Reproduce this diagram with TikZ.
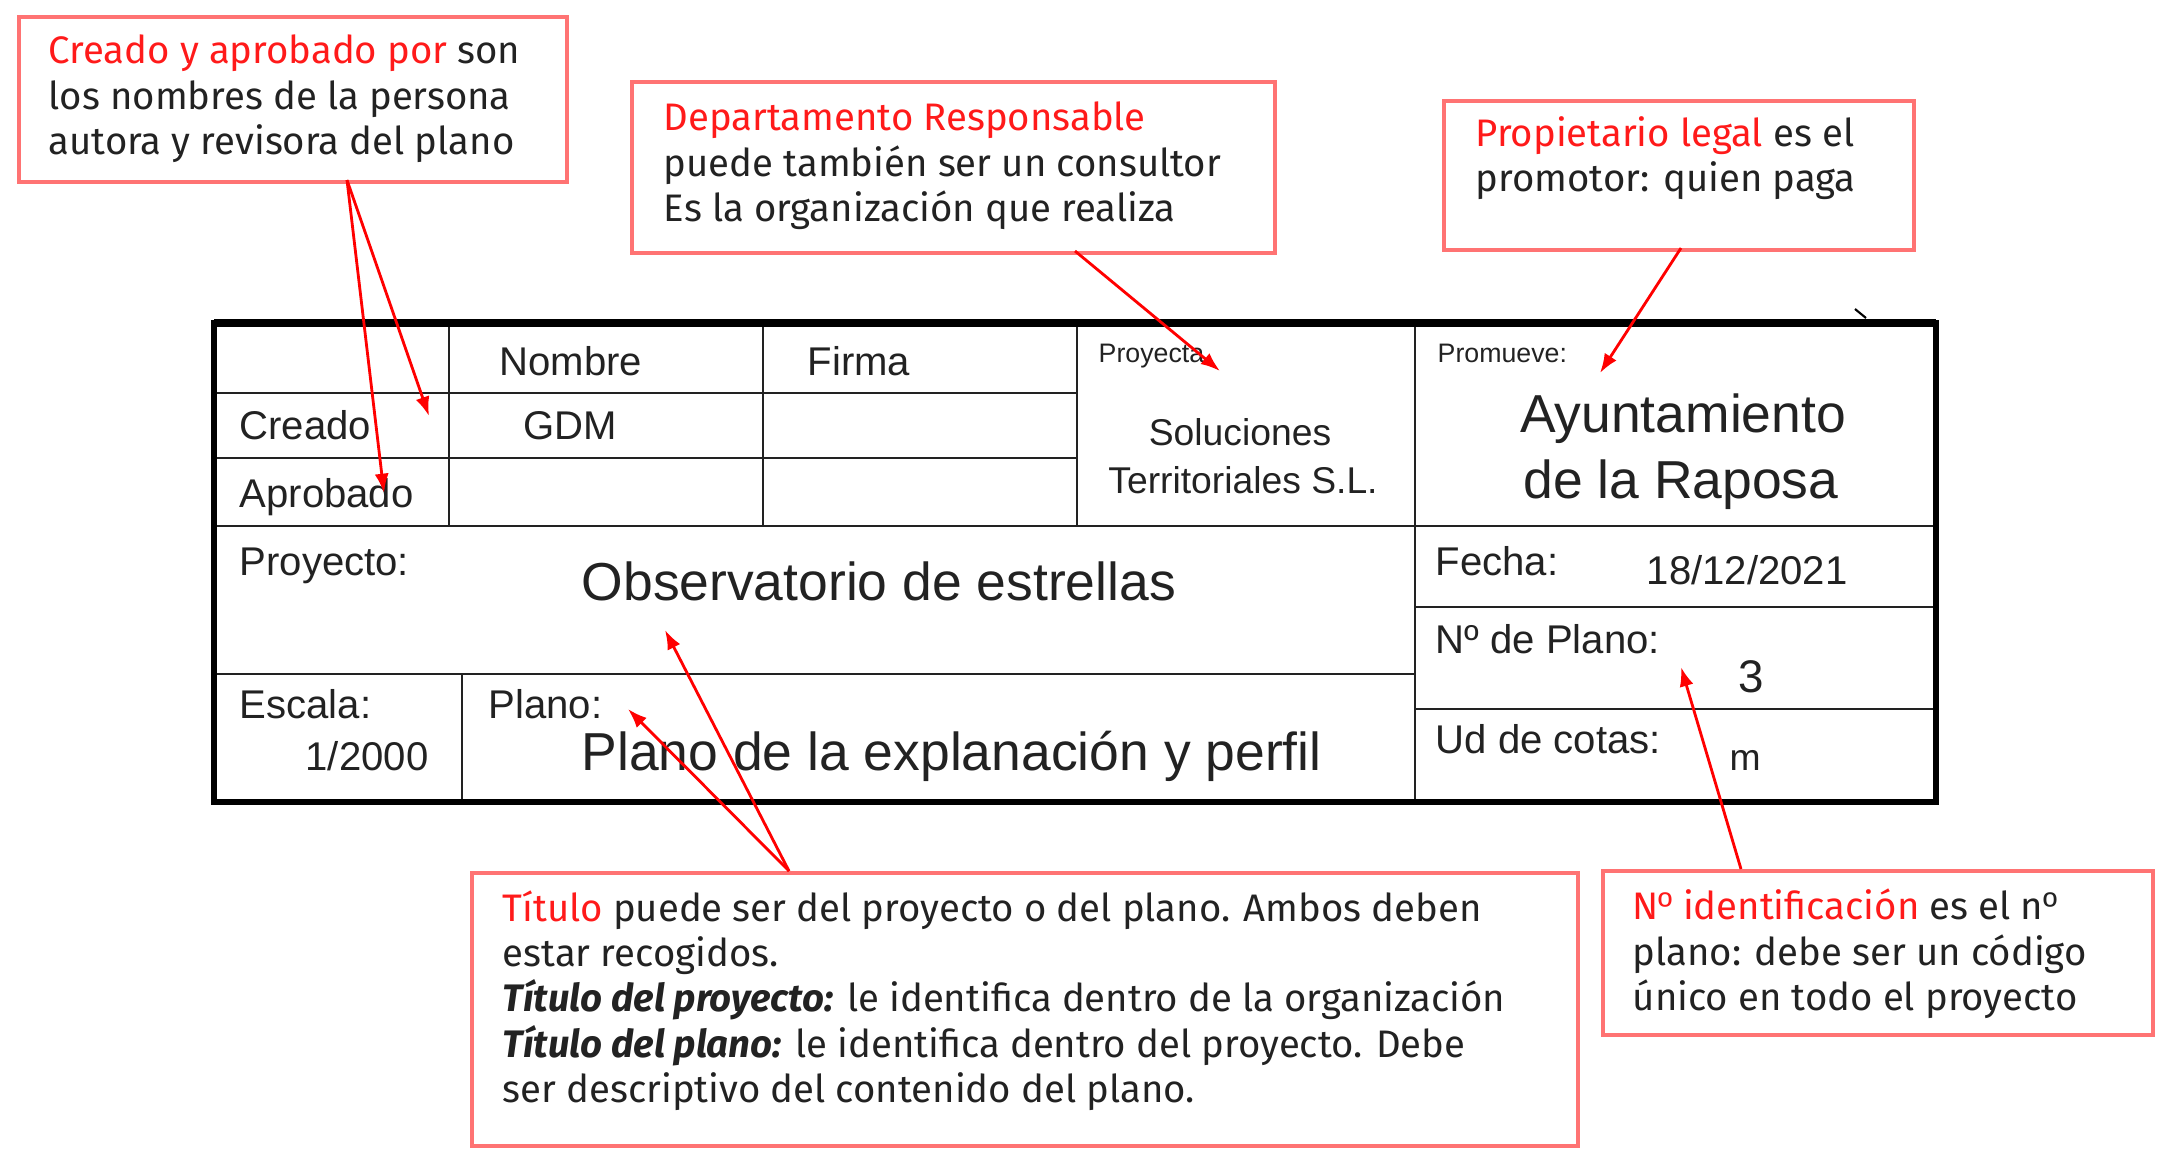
\documentclass[tikz,border=0pt]{standalone}
\usepackage{fontspec}
\setmainfont{Liberation Sans}
\newfontfamily\notefont{Fira Sans}
\usetikzlibrary{arrows.meta}
\definecolor{notered}{HTML}{FF1A1A}
\definecolor{boxred}{HTML}{FF7373}
\definecolor{ink}{HTML}{222222}
\newcommand{\ordo}{{\rmfamily º}}

\begin{document}
\begin{tikzpicture}[x=0.01cm, y=-0.01cm]
        \tikzstyle{cell} = [anchor=base west, inner sep=0pt, text=ink, font=\fontsize{11.4}{13}\selectfont]
        \tikzstyle{bigcell} = [anchor=base west, inner sep=0pt, text=ink, font=\fontsize{15.2}{18}\selectfont]
        \tikzstyle{tinycell} = [anchor=base west, inner sep=0pt, text=ink, font=\fontsize{7.6}{9}\selectfont]
        \tikzstyle{notebox} = [draw=boxred, line width=1.1pt, inner sep=0pt, anchor=north west]
        \tikzstyle{notetext} = [anchor=base west, inner sep=0pt, align=left, text=ink, font=\notefont\fontsize{10.9}{12.8}\selectfont]
        \tikzstyle{pointer} = [draw=red, line width=0.8pt, -{Latex[length=5.5pt, width=4pt]}]
        \tikzstyle{thin} = [draw=ink, line width=0.7pt]
        \tikzstyle{frame} = [draw=black, line width=1.7pt]
        \useasboundingbox (0,0) rectangle (2162,1156);
        % table
        \draw[thin] (214,393) -- (1077,393);
        \draw[thin] (214,458) -- (1077,458);
        \draw[thin] (214,526) -- (1936,526);
        \draw[thin] (214,674) -- (1415,674);
        \draw[thin] (1415,607) -- (1936,607);
        \draw[thin] (1415,709) -- (1936,709);
        \draw[thin] (449,323) -- (449,526);
        \draw[thin] (763,323) -- (763,526);
        \draw[thin] (1077,323) -- (1077,526);
        \draw[thin] (462,674) -- (462,802);
        \draw[thin] (1415,323) -- (1415,802);
        \draw[frame] (214,323) rectangle (1936,802);
        \draw[line width=2.2pt] (214,323) -- (1936,323);
        \draw[line width=0.6pt] (1855,309) -- (1866,318);
        % texts of the table
        \node[cell] (nombreLbl) at (499,375) {Nombre};
        \node[cell] (firmaLbl) at (807,375) {Firma};
        \node[cell] (creadoLbl) at (239,439) {Creado};
        \node[cell] (gdmLbl) at (523,439) {GDM};
        \node[cell] (aprobadoLbl) at (239,507) {Aprobado};
        \node[tinycell] (proyectaLbl) at (1098,362) {Proyecta};
        \node[tinycell] (promueveLbl) at (1437,362) {Promueve:};
        \node[cell, anchor=base, font=\fontsize{10.6}{12}\selectfont] (solucionesLbl) at (1240,445) {Soluciones};
        \node[cell, anchor=base, font=\fontsize{10.6}{12}\selectfont] (territorialesLbl) at (1243,493) {Territoriales S.L.};
        \node[bigcell, anchor=base] (ayuntamientoLbl) at (1683,432) {Ayuntamiento};
        \node[bigcell, anchor=base] (raposaLbl) at (1681,498) {de la Raposa};
        \node[cell] (proyectoLbl) at (239,575) {Proyecto:};
        \node[bigcell] (observatorioLbl) at (581,600) {Observatorio de estrellas};
        \node[cell] (escalaLbl) at (239,718) {Escala:};
        \node[cell] (escalaVal) at (305,770) {1/2000};
        \node[cell] (planoLbl) at (488,718) {Plano:};
        \node[bigcell] (planoVal) at (581,770) {Plano de la explanación y perfil};
        \node[cell] (fechaLbl) at (1435,575) {Fecha:};
        \node[cell] (fechaVal) at (1646,584) {18/12/2021};
        \node[cell] (numeroLbl) at (1435,653) {Nº de Plano:};
        \node[cell, font=\fontsize{13}{15}\selectfont] (numeroVal) at (1738,692) {3};
        \node[cell] (cotasLbl) at (1435,753) {Ud de cotas:};
        \node[cell, font=\fontsize{10.6}{12}\selectfont] (cotasVal) at (1729,770) {m};
        % notes
        \node[notebox, minimum width=5.48cm, minimum height=1.65cm] (creadoBox) at (17,15) {};
        \node[notebox, minimum width=6.43cm, minimum height=1.71cm] (deptoBox) at (630,80) {};
        \node[notebox, minimum width=4.70cm, minimum height=1.49cm] (propBox) at (1442,99) {};
        \node[notebox, minimum width=11.05cm, minimum height=2.73cm] (tituloBox) at (470,871) {};
        \node[notebox, minimum width=5.50cm, minimum height=1.64cm] (identBox) at (1601,869) {};
        % (base of a text block = its last line)
        \node[notetext] (creadoText) at (48,154) {{\color{notered}Creado y aprobado por} son\\los nombres de la persona\\autora y revisora del plano};
        \node[notetext] (deptoText) at (663,221) {{\color{notered}Departamento Responsable}\\puede también ser un consultor\\Es la organización que realiza};
        \node[notetext] (propText) at (1475,191) {{\color{notered}Propietario legal} es el\\promotor: quien paga};
        \node[notetext] (tituloText) at (502,1102) {{\color{notered}Título} puede ser del proyecto o del plano. Ambos deben\\estar recogidos.\\\textbf{\textit{Título del proyecto:}} le identifica dentro de la organización\\\textbf{\textit{Título del plano:}} le identifica dentro del proyecto. Debe\\ser descriptivo del contenido del plano.};
        \node[notetext] (identText) at (1632,1010) {{\color{notered}N\ordo{} identificación} es el n\ordo\\plano: debe ser un código\\único en todo el proyecto};
        % pointers
        \coordinate (creadoFoot) at (347,180);
        \coordinate (creadoTip) at (429,416);
        \coordinate (aprobadoTip) at (384,493);
        \coordinate (deptoFoot) at (1075,251);
        \coordinate (proyectaTip) at (1220,371);
        \coordinate (propFoot) at (1681,248);
        \coordinate (promueveTip) at (1600,373);
        \coordinate (tituloFoot) at (789,871);
        \coordinate (observatorioTip) at (665,630);
        \coordinate (planoTip) at (628,709);
        \coordinate (identFoot) at (1741,869);
        \coordinate (numeroTip) at (1681,667);
        \draw[pointer] (creadoFoot) -- (creadoTip);
        \draw[pointer] (creadoFoot) -- (aprobadoTip);
        \draw[pointer] (deptoFoot) -- (proyectaTip);
        \draw[pointer] (propFoot) -- (promueveTip);
        \draw[pointer] (tituloFoot) -- (observatorioTip);
        \draw[pointer] (tituloFoot) -- (planoTip);
        \draw[pointer] (identFoot) -- (numeroTip);
\end{tikzpicture}
\end{document}
